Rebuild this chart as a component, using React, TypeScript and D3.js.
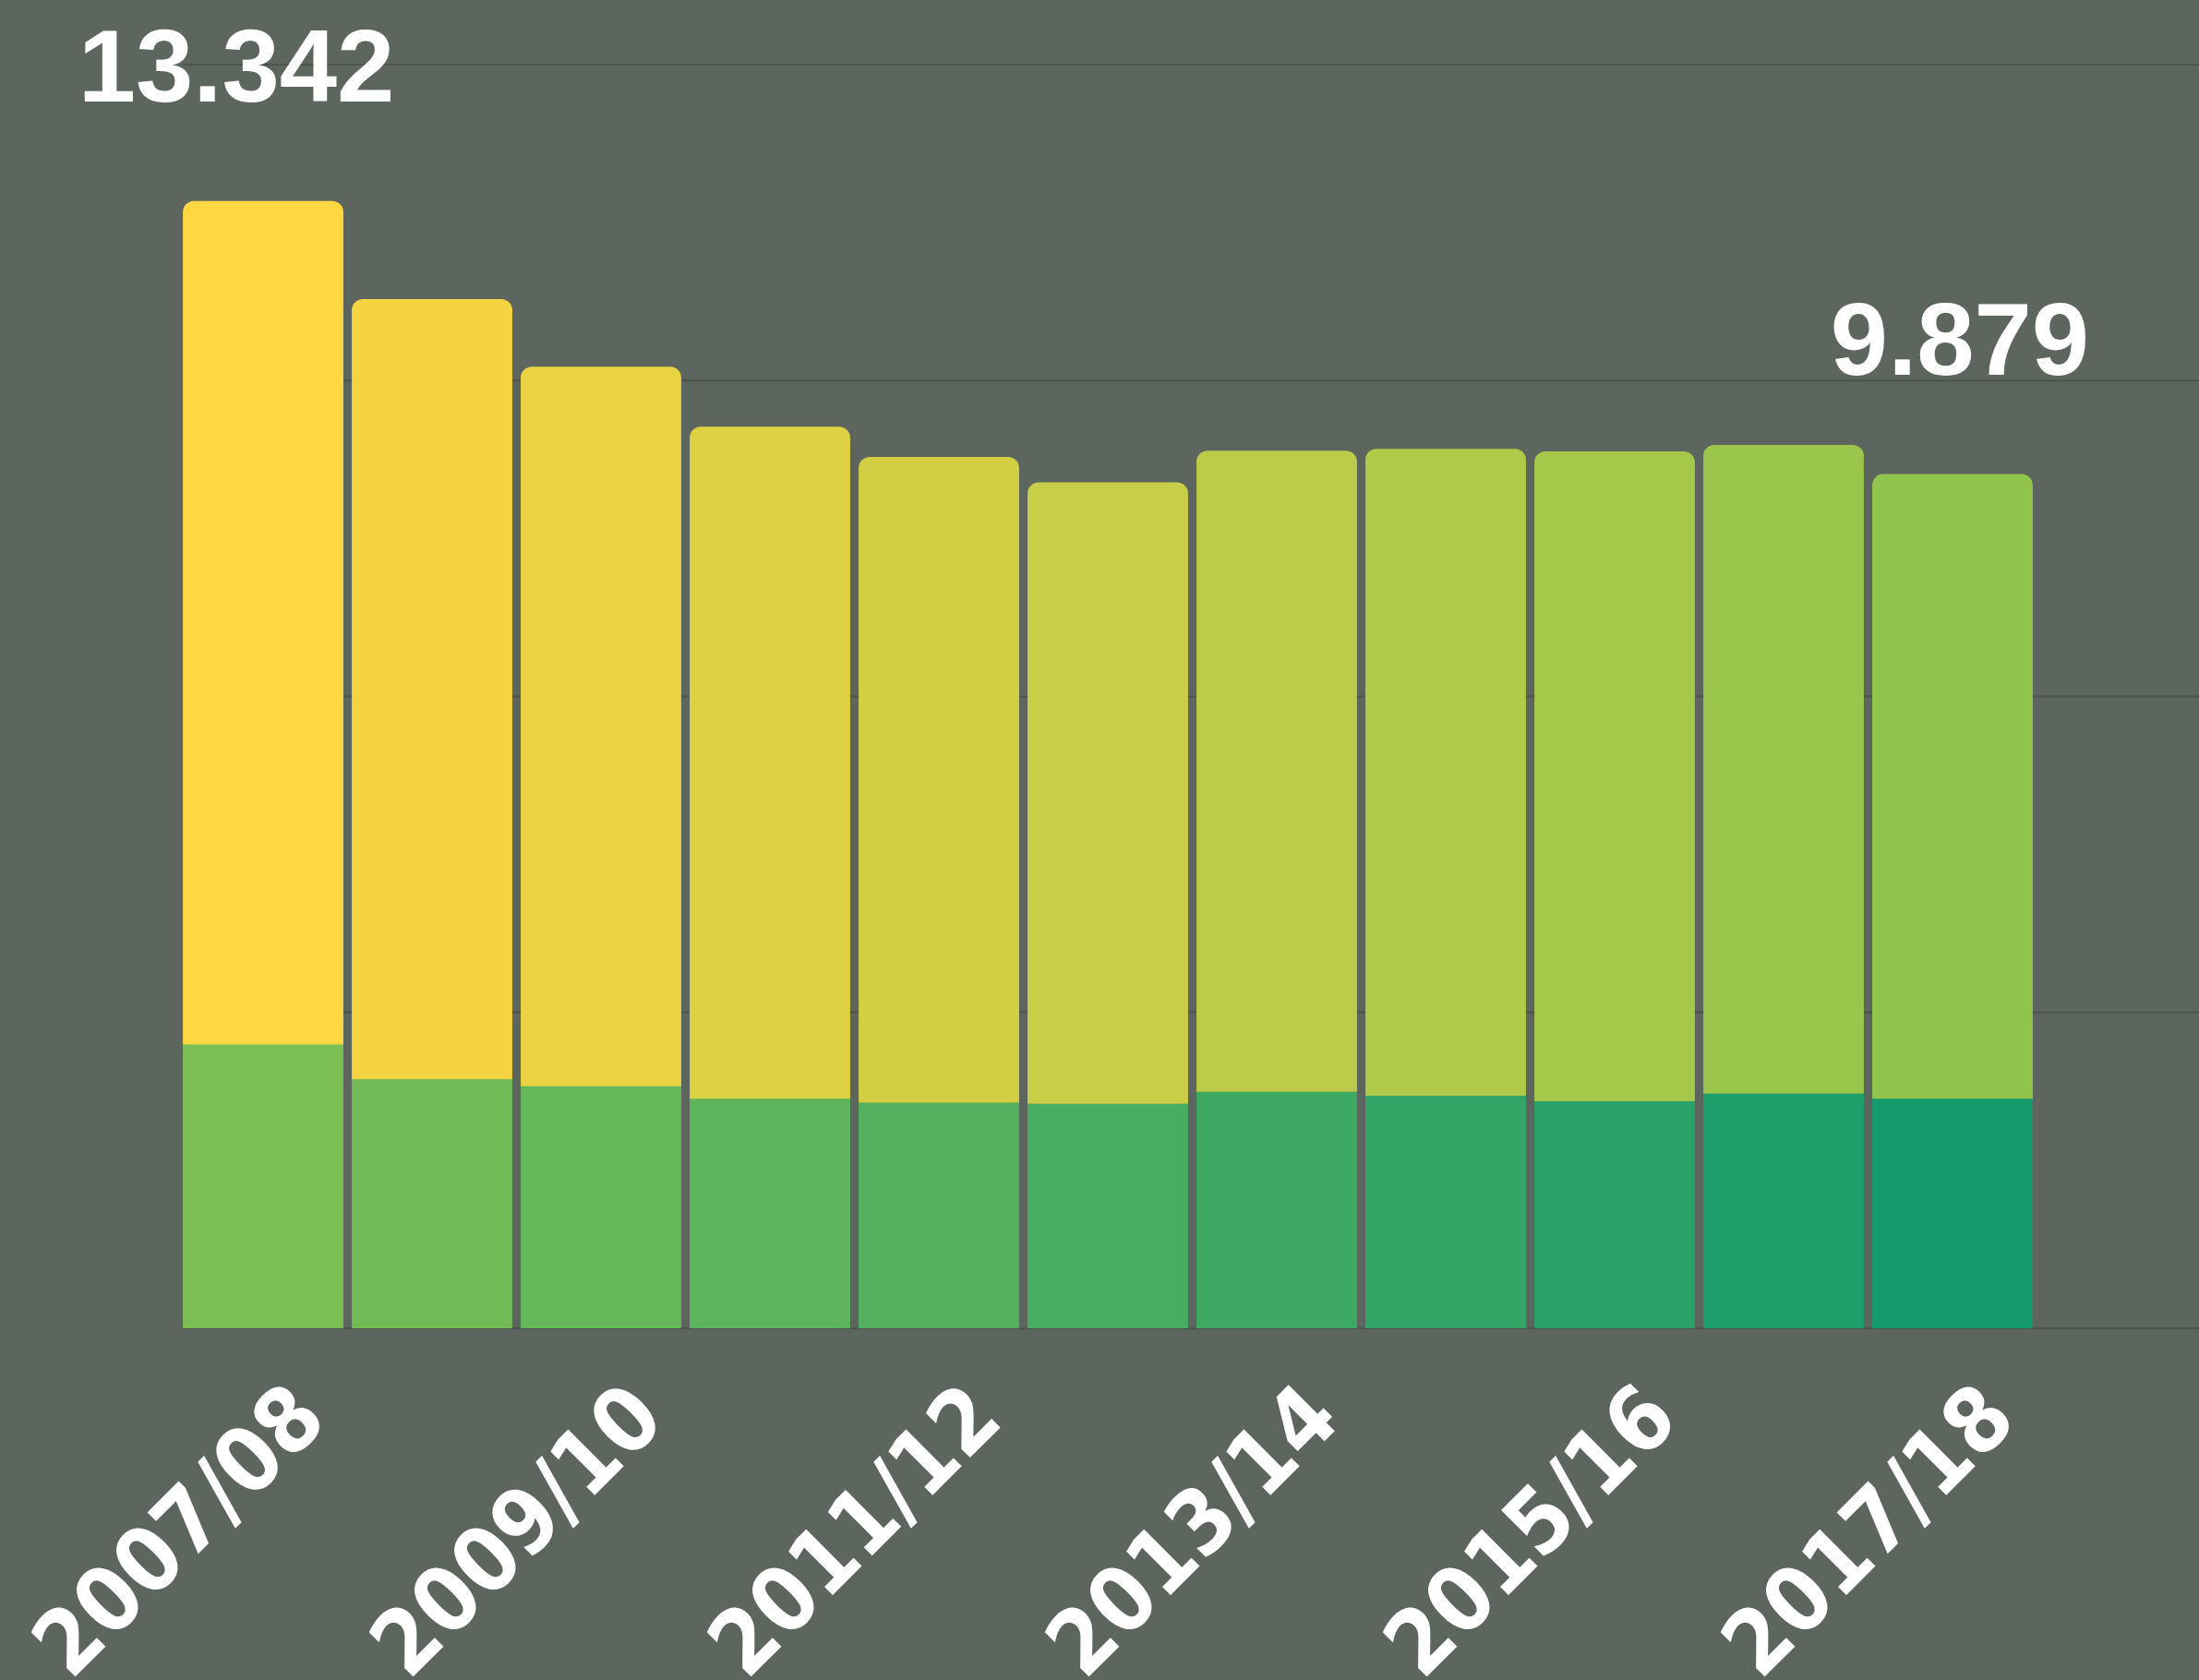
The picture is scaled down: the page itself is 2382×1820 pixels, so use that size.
import * as d3 from "d3";
import { useEffect, useRef } from "react";

const years = [
	"2007/08",
	"2008/09",
	"2009/10",
	"2010/11",
	"2011/12",
	"2012/13",
	"2013/14",
	"2014/15",
	"2015/16",
	"2016/17",
	"2017/18",
];
// top (yellow) segment of each bar
const upperValues = [
	13.342, 12.34, 11.38, 10.63, 10.21, 9.83, 10.14, 10.23, 10.28, 10.26, 9.879,
];
// bottom (green) segment of each bar
const lowerValues = [
	4.5, 3.95, 3.84, 3.64, 3.58, 3.56, 3.75, 3.69, 3.6, 3.72, 3.64,
];
const gridTicks = [0, 5, 10, 15, 20];

const WIDTH = 2382;
const HEIGHT = 1820;

function roundedTop(x: number, y: number, w: number, h: number, r: number) {
	const rr = Math.min(r, h, w / 2);
	return (
		`M${x},${y + h}V${y + rr}` +
		`A${rr},${rr} 0 0 1 ${x + rr},${y}` +
		`H${x + w - rr}` +
		`A${rr},${rr} 0 0 1 ${x + w},${y + rr}` +
		`V${y + h}Z`
	);
}

function StackedBars() {
	const ref = useRef<SVGSVGElement>(null);

	function draw() {
		const svg = d3.select(ref.current);
		svg.selectAll("*").remove();

		const xScale = d3
			.scaleBand()
			.domain(years)
			.range([193.5, 2206.5])
			.paddingInner(0.05)
			.paddingOuter(0.025);
		const yScale = d3.scaleLinear().domain([0, 20]).range([1439, 70]);

		const upperColor = d3
			.scaleLinear<string>()
			.domain([0, years.length - 1])
			.range(["#ffd740", "#90c44d"])
			.interpolate(d3.interpolateRgb);
		const lowerColor = d3
			.scaleLinear<string>()
			.domain([0, years.length - 1])
			.range(["#7cbf55", "#149a6d"])
			.interpolate(d3.interpolateRgb);

		svg.append("rect")
			.attr("width", WIDTH)
			.attr("height", HEIGHT)
			.attr("fill", "#5d665e");

		// grid
		svg.append("g")
			.selectAll("line")
			.data(gridTicks)
			.enter()
			.append("line")
			.attr("x1", xScale(years[0]) as number)
			.attr("x2", WIDTH)
			.attr("y1", (d) => yScale(d))
			.attr("y2", (d) => yScale(d))
			.attr("stroke", "#4c534d")
			.attr("stroke-width", 2);

		const bars = svg
			.append("g")
			.selectAll("g")
			.data(years)
			.enter()
			.append("g");

		bars.append("rect")
			.attr("x", (d) => xScale(d) as number)
			.attr("y", (d, i) => yScale(lowerValues[i]))
			.attr("width", xScale.bandwidth())
			.attr("height", (d, i) => yScale(0) - yScale(lowerValues[i]))
			.attr("fill", (d, i) => lowerColor(i));

		bars.append("path")
			.attr("d", (d, i) => {
				const top = yScale(lowerValues[i] + upperValues[i]);
				const bottom = yScale(lowerValues[i]);
				return roundedTop(
					xScale(d) as number,
					top,
					xScale.bandwidth(),
					bottom - top + 0.5,
					12
				);
			})
			.attr("fill", (d, i) => upperColor(i));

		// x labels, every other year (condensed bold, rotated)
		svg.append("g")
			.selectAll("text")
			.data(years.filter((d, i) => i % 2 === 0))
			.enter()
			.append("text")
			.attr("transform", (d) => {
				const cx = (xScale(d) as number) + xScale.bandwidth() / 2;
				return `translate(${cx + 72},1541) rotate(-45) scale(0.9,1)`;
			})
			.attr("text-anchor", "end")
			.attr("fill", "#ffffff")
			.style("font-family", "'DejaVu Sans', Verdana, sans-serif")
			.style("font-weight", "bold")
			.style("font-size", "97px")
			.text((d) => d);

		// first and last value labels
		const fmt = d3.format(".3f");
		const highlights = [
			{ i: 0, dx: -29 },
			{ i: years.length - 1, dx: 8 },
		];
		svg.append("g")
			.selectAll("text")
			.data(highlights)
			.enter()
			.append("text")
			.attr(
				"x",
				(d) =>
					(xScale(years[d.i]) as number) +
					xScale.bandwidth() / 2 +
					d.dx
			)
			.attr(
				"y",
				(d) => yScale(lowerValues[d.i] + upperValues[d.i]) - 108
			)
			.attr("text-anchor", "middle")
			.attr("fill", "#ffffff")
			.style("font-family", "'Liberation Sans', Arial, sans-serif")
			.style("font-weight", "bold")
			.style("font-size", "112px")
			.text((d) => fmt(upperValues[d.i]));
	}

	useEffect(() => {
		draw();
	}, []);

	return (
		<svg
			ref={ref}
			width={WIDTH}
			height={HEIGHT}
			style={{ position: "absolute", left: 0, top: 0, display: "block" }}
		></svg>
	);
}

export default function App() {
	return <StackedBars />;
}
